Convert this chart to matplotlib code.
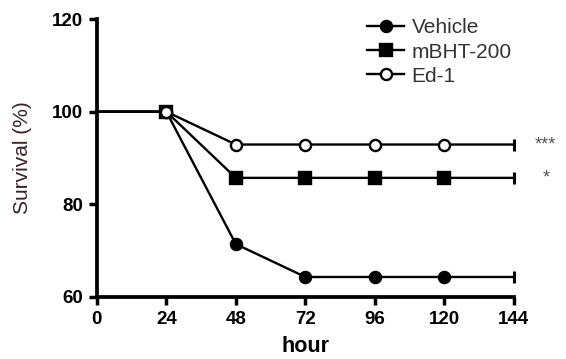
import numpy as np
import matplotlib.pyplot as plt

plt.rcParams['font.family'] = ['Liberation Sans', 'DejaVu Sans']

hours = [0, 24, 48, 72, 96, 120, 144]
vehicle = [100, 100, 71.4, 64.3, 64.3, 64.3, 64.3]
mbht = [100, 100, 85.7, 85.7, 85.7, 85.7, 85.7]
ed1 = [100, 100, 92.9, 92.9, 92.9, 92.9, 92.9]
labels = ['Vehicle', 'mBHT-200', 'Ed-1']
stars = ['***', '*']

fig = plt.figure(figsize=(5.66, 3.59), dpi=100)
ax = fig.add_axes([0.171, 0.173, 0.737, 0.774])

series = [(vehicle, 'o', 'black'), (mbht, 's', 'black'), (ed1, 'o', 'white')]
for (vals, mk, fc), lab in zip(series, labels):
    ax.plot(hours, vals, color='black', lw=1.7, marker=mk, markersize=8,
            markerfacecolor=fc, markeredgecolor='black', markeredgewidth=1.7,
            markevery=[1, 2, 3, 4, 5], label=lab, clip_on=False, zorder=3)
    # censor tick at the end
    ax.plot(hours[-1:], vals[-1:], marker='|', markersize=9, color='black',
            markeredgewidth=2.2, clip_on=False, zorder=3)

ax.text(hours[-1] + 11, ed1[-1], stars[0], ha='center', va='center',
        fontsize=13, color='#555555')
ax.text(hours[-1] + 11, mbht[-1], stars[1], ha='center', va='center',
        fontsize=13, color='#555555')

ax.set_xlim(0, 144)
ax.set_ylim(60, 120)
ax.set_xticks(hours)
ax.set_yticks([60, 80, 100, 120])
ax.spines['top'].set_visible(False)
ax.spines['right'].set_visible(False)
for s in ['left', 'bottom']:
    ax.spines[s].set_linewidth(2.7)
ax.tick_params(width=2.5, length=6, labelsize=13.5, pad=4)
for t in ax.get_xticklabels() + ax.get_yticklabels():
    t.set_fontweight('bold')
ax.set_xlabel('hour', fontsize=15.5, fontweight='bold', labelpad=6)
ax.set_ylabel('Survival (%)', fontsize=15, color='#3a2222', labelpad=14)

ax.legend(loc='upper right', bbox_to_anchor=(1.04, 1.07), frameon=False,
          fontsize=15, handlelength=1.8, handletextpad=0.35, labelspacing=0.25,
          labelcolor='#333333')

fig.savefig('out.png', dpi=100)
